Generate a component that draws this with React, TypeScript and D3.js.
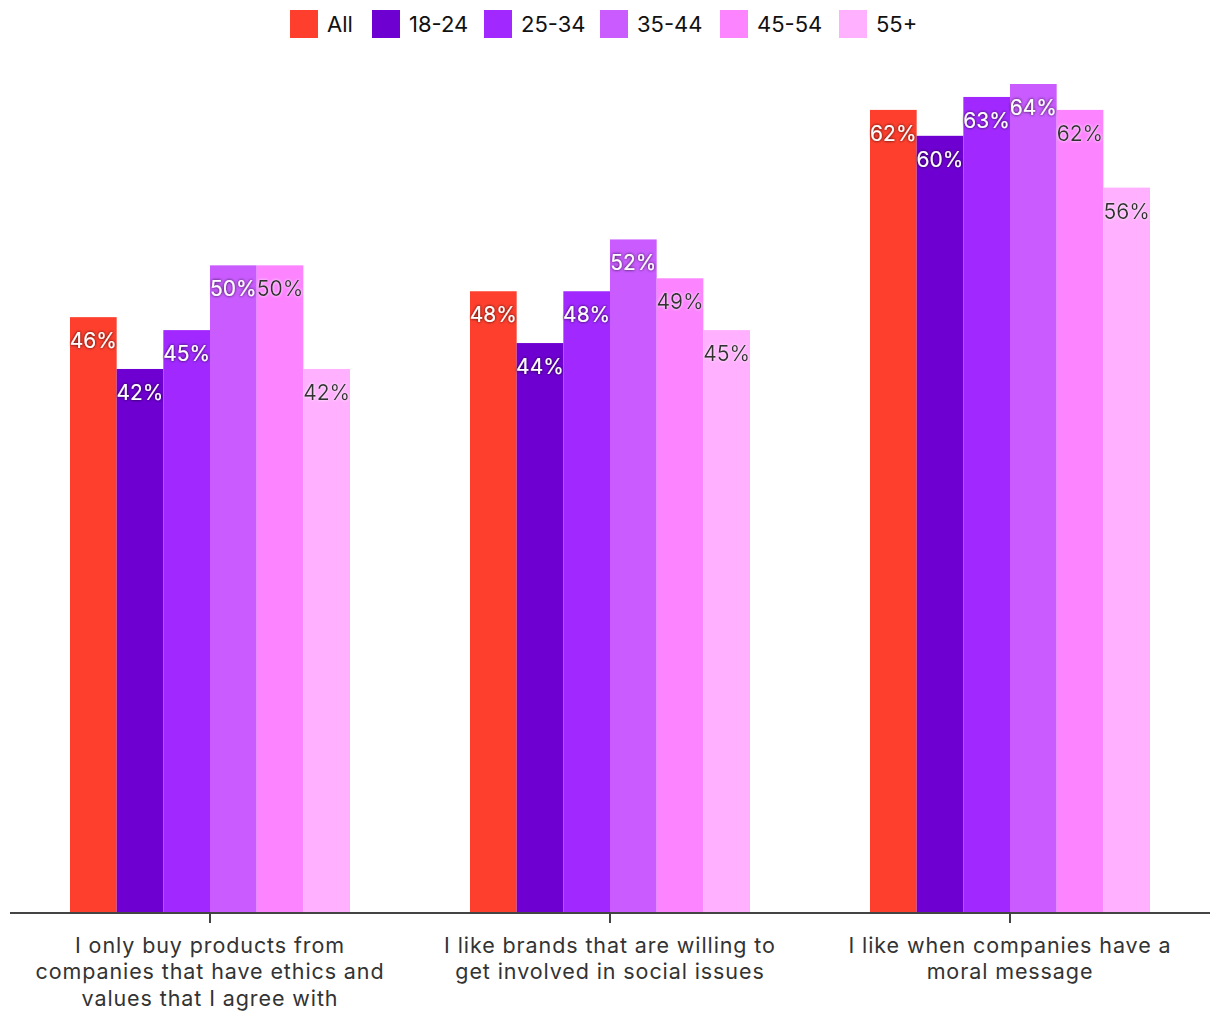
import { useRef, useEffect } from 'react';
import * as d3 from 'd3';

const categories = [
  ['I only buy products from', 'companies that have ethics and', 'values that I agree with'],
  ['I like brands that are willing to', 'get involved in social issues'],
  ['I like when companies have a', 'moral message'],
];
const seriesNames = ['All', '18-24', '25-34', '35-44', '45-54', '55+'];
const seriesColours = ['#ff3f2d', '#6e00d2', '#a129ff', '#c95bff', '#fc84ff', '#ffb0fe'];
// values[category][series]
const values = [
  [46, 42, 45, 50, 50, 42],
  [48, 44, 48, 52, 49, 45],
  [62, 60, 63, 64, 62, 56],
];

const W = 1220;
const H = 1020;
const FONT = 'Inter, "Noto Sans", sans-serif';

export default function App() {
  const svgRef = useRef<SVGSVGElement>(null);

  useEffect(() => {
    if (!svgRef.current) return;
    const svg = d3.select(svgRef.current);
    svg.selectAll('*').remove();

    const defs = svg.append('defs');
    const glow = (id: string, colour: string) => {
      const f = defs.append('filter').attr('id', id).attr('x', '-20%').attr('y', '-30%').attr('width', '140%').attr('height', '160%');
      f.append('feDropShadow').attr('dx', 0).attr('dy', 0).attr('stdDeviation', 1.5).attr('flood-color', colour).attr('flood-opacity', 0.9);
    };
    glow('darkGlow', '#000');
    glow('lightGlow', '#fff');

    const x0 = d3.scaleBand<number>()
      .domain(d3.range(categories.length))
      .range([10, 1210])
      .paddingInner(0.3)
      .paddingOuter(0.15);

    const x1 = d3.scaleBand<number>()
      .domain(d3.range(seriesNames.length))
      .range([0, x0.bandwidth()]);

    const y = d3.scaleLinear().domain([0, 64]).range([913, 84]);

    const groups = svg.append('g')
      .selectAll('g')
      .data(values)
      .join('g')
      .attr('transform', (_, i) => `translate(${x0(i)},0)`);

    groups.selectAll('rect')
      .data(d => d)
      .join('rect')
      .attr('x', (_, j) => x1(j)!)
      .attr('y', d => y(d))
      .attr('width', x1.bandwidth())
      .attr('height', d => y(0) - y(d))
      .attr('fill', (_, j) => seriesColours[j]);

    groups.selectAll('text')
      .data(d => d)
      .join('text')
      .attr('x', (_, j) => x1(j)! + x1.bandwidth() / 2)
      .attr('y', d => y(d) + 31)
      .attr('text-anchor', 'middle')
      .attr('font-family', FONT)
      .attr('font-size', 21)
      .attr('fill', (_, j) => (j < 4 ? '#fff' : '#333'))
      .attr('filter', (_, j) => (j < 4 ? 'url(#darkGlow)' : 'url(#lightGlow)'))
      .text(d => `${d}%`);

    // axis
    svg.append('line')
      .attr('x1', 10).attr('x2', 1210)
      .attr('y1', y(0)).attr('y2', y(0))
      .attr('stroke', '#444').attr('stroke-width', 2);

    categories.forEach((lines, i) => {
      const cx = x0(i)! + x0.bandwidth() / 2;
      svg.append('line')
        .attr('x1', cx).attr('x2', cx)
        .attr('y1', y(0)).attr('y2', y(0) + 10)
        .attr('stroke', '#444').attr('stroke-width', 2);
      const t = svg.append('text')
        .attr('text-anchor', 'middle')
        .attr('font-family', FONT)
        .attr('font-size', 21.5)
        .attr('letter-spacing', 0.9)
        .attr('fill', '#333');
      lines.forEach((l, k) => {
        t.append('tspan').attr('x', cx).attr('y', 953 + k * 26.3).text(l);
      });
    });

    // legend
    const legendX = [290, 372, 484, 600, 720, 839];
    const legend = svg.append('g')
      .selectAll('g')
      .data(seriesNames)
      .join('g')
      .attr('transform', (_, i) => `translate(${legendX[i]},10)`);
    legend.append('rect')
      .attr('width', 28).attr('height', 28)
      .attr('fill', (_, i) => seriesColours[i]);
    legend.append('text')
      .attr('x', 37).attr('y', 22)
      .attr('font-family', FONT)
      .attr('font-size', 22)
      .attr('fill', '#111')
      .text(d => d);
  }, []);

  return (
    <svg
      ref={svgRef}
      width={W}
      height={H}
      style={{ position: 'absolute', left: 0, top: 0 }}
    />
  );
}
